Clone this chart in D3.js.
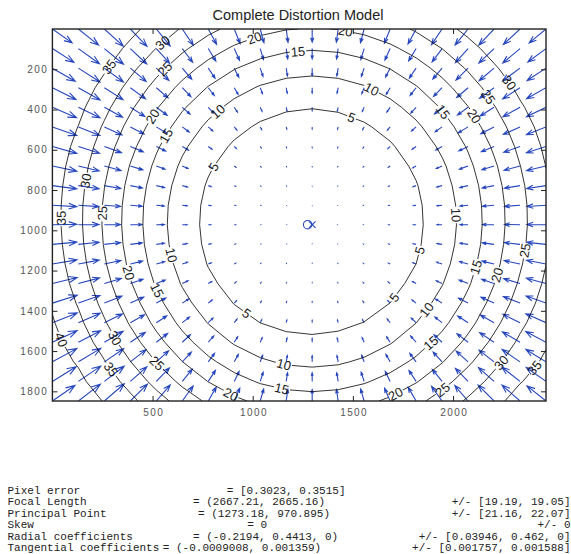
<!DOCTYPE html>
<html>
<head>
<meta charset="utf-8">
<script src="https://cdn.jsdelivr.net/npm/d3@7"></script>
<style>
  body { margin: 0; background: #fff; }
  svg { display: block; }
</style>
</head>
<body>
<svg id="chart" width="571" height="554"></svg>
<script>
// ---- Calibration results -------------------------------------------------
const imageSize          = [2464, 1848];
const pixelError         = [0.3023, 0.3515];
const focalLength        = [2667.21, 2665.16];
const focalLengthErr     = [19.19, 19.05];
const principalPoint     = [1273.18, 970.895];
const principalPointErr  = [21.16, 22.07];
const skew               = 0;
const skewErr            = 0;
const radialCoeffs       = [-0.2194, 0.4413, 0];
const radialErr          = [0.03946, 0.462, 0];
const tangentialCoeffs   = [-0.0009008, 0.001359];
const tangentialErr      = [0.001757, 0.001588];
const centerMark         = [1297, 972];

// sampling grid for the vector field (columns, rows)
const gridCount = [20, 20];

// axes
const xTicks = [500, 1000, 1500, 2000];
const yTicks = [200, 400, 600, 800, 1000, 1200, 1400, 1600, 1800];

// iso-lines of the distortion magnitude (pixels)
const contourLevels = [5, 10, 15, 20, 25, 30, 35, 40];

// inline contour labels: level and a point (image pixels) near where it sits
const contourLabels = [
  [30, 546, 63], [35, 271, 179], [25, 557, 194], [20, 496, 432],
  [15, 562, 527], [10, 827, 411], [5, 787, 676], [30, 146, 750],
  [35, 38, 939], [25, 229, 914], [10, 596, 1123], [20, 379, 1212],
  [15, 534, 1292], [5, 970, 1411], [40, 38, 1545], [30, 313, 1535],
  [35, 288, 1694], [25, 529, 1653], [20, 895, 1808], [10, 1157, 1659],
  [15, 1146, 1783], [20, 1710, 1808], [25, 1944, 1788], [15, 1894, 1565],
  [30, 2235, 1653], [35, 2401, 1678], [10, 1869, 1396], [5, 1702, 1330],
  [15, 2108, 1181], [20, 2218, 1222], [25, 2348, 1098], [5, 1827, 1098],
  [10, 2019, 924], [10, 1594, 298], [5, 1494, 437], [15, 1950, 412],
  [20, 2099, 437], [25, 2175, 338], [30, 2285, 263], [15, 1226, 114],
  [20, 1000, 20], [20, 1461, 20]
];

// parameter summary lines
const summaryNames = ["Pixel error", "Focal Length", "Principal Point", "Skew",
                      "Radial coefficients", "Tangential coefficients"];

// ---- Layout -----------------------------------------------------------------
const svg = d3.select("#chart");
const plot = { left: 52.4, right: 546, top: 29, bottom: 401 };

const x = d3.scaleLinear().domain([0, imageSize[0]]).range([plot.left, plot.right]);
const y = d3.scaleLinear().domain([0, imageSize[1]]).range([plot.top, plot.bottom]);

const blue = "#2646bd";

// ---- Distortion model -------------------------------------------------------
function distortion(px, py) {
  const xn = (px - principalPoint[0]) / focalLength[0];
  const yn = (py - principalPoint[1]) / focalLength[1];
  const r2 = xn * xn + yn * yn;
  const [k1, k2, k3] = radialCoeffs;
  const [p1, p2] = tangentialCoeffs;
  const radial = 1 + k1 * r2 + k2 * r2 * r2 + k3 * r2 * r2 * r2;
  const xd = radial * xn + 2 * p1 * xn * yn + p2 * (r2 + 2 * xn * xn);
  const yd = radial * yn + p1 * (r2 + 2 * yn * yn) + 2 * p2 * xn * yn;
  const px2 = focalLength[0] * (xd + skew * yd) + principalPoint[0];
  const py2 = focalLength[1] * yd + principalPoint[1];
  return [px2 - px, py2 - py];
}

const nx = gridCount[0], ny = gridCount[1];
const stepX = imageSize[0] / (nx - 1), stepY = imageSize[1] / (ny - 1);
const field = [];
const magnitude = new Array(nx * ny);
for (let j = 0; j < ny; j++) {
  for (let i = 0; i < nx; i++) {
    const px = i * stepX, py = j * stepY;
    const [dx, dy] = distortion(px, py);
    field.push({ px, py, dx, dy });
    magnitude[j * nx + i] = Math.hypot(dx, dy);
  }
}

// ---- Title --------------------------------------------------------------------
svg.append("text")
  .attr("x", 298).attr("y", 20)
  .attr("text-anchor", "middle")
  .style("font-family", "'Liberation Sans', Arial, sans-serif")
  .style("font-size", "14.5px")
  .style("fill", "#222")
  .text("Complete Distortion Model");

// ---- Quiver (arrows autoscaled to the grid spacing) --------------------------
const nPts = Math.sqrt(field.length);
const delx = imageSize[0] / nPts, dely = imageSize[1] / nPts;
const del = delx * delx + dely * dely;
const maxLen = d3.max(field, d => Math.sqrt((d.dx * d.dx + d.dy * d.dy) / del));
const arrowScale = 0.9 / maxLen;
const headA = 0.33, headB = 0.36;

const arrowPath = d => {
  const u = d.dx * arrowScale, v = d.dy * arrowScale;
  const x0 = d.px, y0 = d.py, x1 = x0 + u, y1 = y0 + v;
  const h1x = x1 - headA * (u + headB * v), h1y = y1 - headA * (v - headB * u);
  const h2x = x1 - headA * (u - headB * v), h2y = y1 - headA * (v + headB * u);
  return `M${x(x0)},${y(y0)}L${x(x1)},${y(y1)}` +
         `M${x(h1x)},${y(h1y)}L${x(x1)},${y(y1)}L${x(h2x)},${y(h2y)}`;
};

const defs = svg.append("defs");
defs.append("clipPath").attr("id", "plotClip")
  .append("rect")
  .attr("x", plot.left).attr("y", plot.top)
  .attr("width", plot.right - plot.left).attr("height", plot.bottom - plot.top);

svg.append("g")
  .attr("clip-path", "url(#plotClip)")
  .selectAll("path").data(field).join("path")
  .attr("d", arrowPath)
  .attr("fill", "none")
  .attr("stroke", blue)
  .attr("stroke-width", 1.1);

// ---- Contours -------------------------------------------------------------------
const contourGen = d3.contours().size([nx, ny]).thresholds(contourLevels);
const contourSets = contourGen(magnitude);

const toData = p => [(p[0] - 0.5) * stepX, (p[1] - 0.5) * stepY];
const onEdge = p => p[0] <= 0 || p[0] >= nx || p[1] <= 0 || p[1] >= ny;

// split closed rings into the open iso-lines that lie inside the grid
function ringPieces(ring) {
  let pts = ring.slice();
  const a = pts[0], b = pts[pts.length - 1];
  if (a[0] === b[0] && a[1] === b[1]) pts.pop();
  const k = pts.findIndex(onEdge);
  if (k < 0) return [{ pts: pts.map(toData), closed: true }];
  const rot = pts.slice(k).concat(pts.slice(0, k));
  const out = [];
  let cur = [];
  for (const p of rot) {
    if (onEdge(p)) { if (cur.length > 1) out.push({ pts: cur.map(toData), closed: false }); cur = []; }
    else cur.push(p);
  }
  if (cur.length > 1) out.push({ pts: cur.map(toData), closed: false });
  return out;
}

const lines = [];
contourSets.forEach(set => {
  set.coordinates.forEach(poly => poly.forEach(ring => {
    ringPieces(ring).forEach(piece => lines.push({ level: set.value, ...piece }));
  }));
});

const lineGen = d3.line().x(p => x(p[0])).y(p => y(p[1]));

// label placement along the nearest iso-line
const labelFont = 13;
const placed = contourLabels.map(([level, ax, ay]) => {
  const sx = x(ax), sy = y(ay);
  let best = null;
  lines.filter(l => l.level === level).forEach(l => {
    const P = l.pts.map(p => [x(p[0]), y(p[1])]);
    const n = l.closed ? P.length : P.length - 1;
    for (let i = 0; i < n; i++) {
      const p = P[i], q = P[(i + 1) % P.length];
      const vx = q[0] - p[0], vy = q[1] - p[1];
      const L2 = vx * vx + vy * vy || 1e-9;
      let t = ((sx - p[0]) * vx + (sy - p[1]) * vy) / L2;
      t = Math.max(0, Math.min(1, t));
      const cx = p[0] + t * vx, cy = p[1] + t * vy;
      const dd = (cx - sx) ** 2 + (cy - sy) ** 2;
      if (!best || dd < best.dd) best = { dd, cx, cy, vx, vy };
    }
  });
  if (!best) return null;
  let ang = Math.atan2(best.vy, best.vx) * 180 / Math.PI;
  if (ang > 90) ang -= 180;
  if (ang <= -90) ang += 180;
  const txt = String(level);
  const w = txt.length * 0.556 * labelFont + 2;
  return { txt, x: best.cx, y: best.cy, ang, w };
}).filter(Boolean);

const mask = defs.append("mask").attr("id", "labelGaps")
  .attr("maskUnits", "userSpaceOnUse")
  .attr("x", 0).attr("y", 0).attr("width", 571).attr("height", 554);
mask.append("rect").attr("x", 0).attr("y", 0).attr("width", 571).attr("height", 554).attr("fill", "#fff");
mask.selectAll("rect.gap").data(placed).join("rect")
  .attr("class", "gap")
  .attr("x", d => -d.w / 2).attr("y", -6)
  .attr("width", d => d.w).attr("height", 12)
  .attr("transform", d => `translate(${d.x},${d.y}) rotate(${d.ang})`)
  .attr("fill", "#000");

svg.append("g")
  .attr("clip-path", "url(#plotClip)")
  .append("g")
  .attr("mask", "url(#labelGaps)")
  .selectAll("path").data(lines).join("path")
  .attr("d", d => lineGen(d.pts) + (d.closed ? "Z" : ""))
  .attr("fill", "none")
  .attr("stroke", "#111")
  .attr("stroke-width", 0.85);

svg.append("g")
  .attr("clip-path", "url(#plotClip)")
  .selectAll("text").data(placed).join("text")
  .attr("transform", d => `translate(${d.x},${d.y}) rotate(${d.ang})`)
  .attr("text-anchor", "middle")
  .attr("dy", "0.36em")
  .style("font-family", "'Liberation Sans', Arial, sans-serif")
  .style("font-size", labelFont + "px")
  .style("fill", "#1a1a1a")
  .text(d => d.txt);

// ---- Principal point and centre markers ----------------------------------------
svg.append("circle")
  .attr("cx", x(principalPoint[0] + 1)).attr("cy", y(principalPoint[1] + 1))
  .attr("r", 4.2)
  .attr("fill", "none").attr("stroke", blue).attr("stroke-width", 1.1);
{
  const cx = x(centerMark[0]), cy = y(centerMark[1]), s = 3.3;
  svg.append("path")
    .attr("d", `M${cx - s},${cy - s}L${cx + s},${cy + s}M${cx - s},${cy + s}L${cx + s},${cy - s}`)
    .attr("stroke", blue).attr("stroke-width", 1.1).attr("fill", "none");
}

// ---- Axes (ticks point inward on all four sides) -----------------------------
const tickFont = g => g.selectAll("text")
  .style("font-family", "'Liberation Sans', Arial, sans-serif")
  .style("font-size", "10px")
  .style("letter-spacing", "1.4px")
  .style("fill", "#555");

const styleAxis = g => {
  g.select(".domain").remove();
  g.selectAll(".tick line").attr("stroke", "#222").attr("stroke-width", 1);
};
const plain = d3.format("d");

svg.append("g")
  .attr("transform", `translate(0,${plot.bottom})`)
  .call(d3.axisBottom(x).tickValues(xTicks).tickFormat(plain)
        .tickSizeInner(-5).tickSizeOuter(0).tickPadding(8))
  .call(styleAxis).call(tickFont)
  .selectAll("text").attr("dx", "0.7px");
svg.append("g")
  .attr("transform", `translate(0,${plot.top})`)
  .call(d3.axisTop(x).tickValues(xTicks).tickSizeInner(-5).tickSizeOuter(0).tickFormat(""))
  .call(styleAxis);
svg.append("g")
  .attr("transform", `translate(${plot.left},0)`)
  .call(d3.axisLeft(y).tickValues(yTicks).tickFormat(plain)
        .tickSizeInner(-5).tickSizeOuter(0).tickPadding(4.2))
  .call(styleAxis).call(tickFont);
svg.append("g")
  .attr("transform", `translate(${plot.right},0)`)
  .call(d3.axisRight(y).tickValues(yTicks).tickSizeInner(-5).tickSizeOuter(0).tickFormat(""))
  .call(styleAxis);

svg.append("rect")
  .attr("x", plot.left).attr("y", plot.top)
  .attr("width", plot.right - plot.left).attr("height", plot.bottom - plot.top)
  .attr("fill", "none").attr("stroke", "#222").attr("stroke-width", 1.4);

// ---- Parameter summary ------------------------------------------------------------
const pair = a => a.join(", ");
const summaryValues = [
  `= [${pair(pixelError)}]`,
  `= (${pair(focalLength)})`,
  `= (${pair(principalPoint)})`,
  `= ${skew}`,
  `= (${pair(radialCoeffs)})`,
  `= (${pair(tangentialCoeffs)})`
];
const summaryErrors = [
  "",
  `+/- [${pair(focalLengthErr)}]`,
  `+/- [${pair(principalPointErr)}]`,
  `+/- ${skewErr}`,
  `+/- [${pair(radialErr)}]`,
  `+/- [${pair(tangentialErr)}]`
];
const valueX = [226.7, 193, 198, 247.3, 193, 162.8];

const mono = g => g
  .style("font-family", "'Courier New', 'Liberation Mono', monospace")
  .style("font-size", "11px")
  .style("fill", "#222")
  .attr("xml:space", "preserve");

const summary = svg.append("g");
summaryNames.forEach((name, i) => {
  const by = 493.5 + i * 11.55;
  summary.append("text").attr("x", 7.5).attr("y", by).call(mono).text(name);
  summary.append("text").attr("x", valueX[i]).attr("y", by).call(mono).text(summaryValues[i]);
  if (summaryErrors[i])
    summary.append("text").attr("x", 570.5).attr("y", by).attr("text-anchor", "end").call(mono).text(summaryErrors[i]);
});
</script>
</body>
</html>
